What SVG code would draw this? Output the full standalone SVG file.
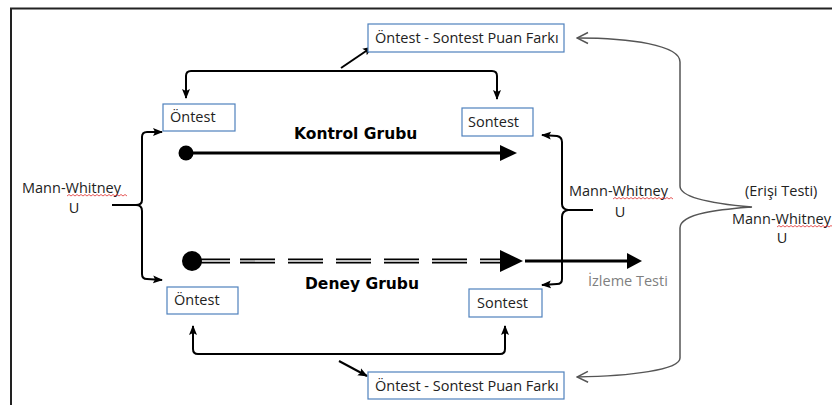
<svg xmlns="http://www.w3.org/2000/svg" width="832" height="405" viewBox="0 0 832 405">
<style>
.t{font-family:"Open Sans","Liberation Sans",sans-serif;font-size:14.5px;fill:#222}
.b{font-family:"DejaVu Sans",Verdana,sans-serif;font-weight:bold;font-size:15.5px;fill:#000}
.box{fill:#fff;stroke:#4f81bd;stroke-width:1.2}
.con{fill:none;stroke:#000;stroke-width:2;stroke-linejoin:round}
.thin{fill:none;stroke:#555;stroke-width:1.5}
.sq{fill:none;stroke:#e03030;stroke-width:0.8}
</style>
<defs>
<marker id="ah" markerUnits="userSpaceOnUse" markerWidth="10" markerHeight="10" viewBox="0 0 10 10" refX="9" refY="5" orient="auto-start-reverse">
<path d="M0 1 L10 5 L0 9 L2 5 z" fill="#000"/>
</marker>
<marker id="ch" markerUnits="userSpaceOnUse" markerWidth="14" markerHeight="14" viewBox="0 0 14 14" refX="13" refY="7" orient="auto-start-reverse">
<path d="M2 1.5 L13 7 L2 12.5" fill="none" stroke="#555" stroke-width="1.5"/>
</marker>
</defs>
<rect width="832" height="405" fill="#fff"/>
<g id="frame">
<path d="M11 405 L11 8.5 L832 8.5" fill="none" stroke="#222" stroke-width="2"/>
</g>
<g id="connectors">
<path class="con" d="M186 98 L186 76 Q186 71 191 71 L492 71 Q497 71 497 76 L497 99" marker-start="url(#ah)" marker-end="url(#ah)"/>
<path class="con" d="M341 68 L372 47" marker-end="url(#ah)"/>
<path class="con" d="M193 326 L193 349 Q193 354 198 354 L500 354 Q505 354 505 349 L505 326" marker-start="url(#ah)" marker-end="url(#ah)"/>
<path class="con" d="M339 361 L367 376" marker-end="url(#ah)"/>
<path class="con" d="M162 132 L147 132 Q142 132 142 137 L142 200 Q142 205 136 205 L112 205 M136 205 Q142 205 142 211 L142 274 Q142 279 147 279 L162 280" marker-start="url(#ah)" marker-end="url(#ah)"/>
<path class="con" d="M542 135 L557 136 Q562 137 562 142 L562 204 Q562 209 568 210 L593 210 M568 210 Q562 211 562 217 L562 279 Q562 284 557 284 L542 285" marker-start="url(#ah)" marker-end="url(#ah)"/>
<path class="thin" d="M577 38 C630 38 680 45 680 62 L680 186 C680 200 728 205 752 207 C728 209 680 212 680 228 L680 358 C680 370 630 376 577 377" marker-start="url(#ch)" marker-end="url(#ch)"/>
</g>
<g id="kontrol-line">
<circle cx="186" cy="153" r="7.5" fill="#000"/>
<line x1="186" y1="153" x2="503" y2="153" stroke="#000" stroke-width="3"/>
<path d="M500 145 L517 153 L500 161 z" fill="#000"/>
</g>
<g id="deney-line">
<line x1="192" y1="261" x2="230" y2="261" stroke="#000" stroke-width="5"/>
<line x1="192" y1="261" x2="230" y2="261" stroke="#fff" stroke-width="1.3"/>
<line x1="240" y1="261" x2="502" y2="261" stroke="#000" stroke-width="5" stroke-dasharray="35 13"/>
<line x1="240" y1="261" x2="502" y2="261" stroke="#fff" stroke-width="1.3" stroke-dasharray="35 13"/>
<circle cx="192" cy="261" r="10" fill="#000"/>
<path d="M500 250 L523 261 L500 272 z" fill="#000"/>
<line x1="525" y1="261" x2="630" y2="261" stroke="#000" stroke-width="3"/>
<path d="M627 253 L642 261 L627 269 z" fill="#000"/>
</g>
<g id="fark-top">
<rect class="box" x="368" y="24" width="196" height="28"/>
<text class="t" x="375" y="43">Öntest - Sontest Puan Farkı</text>
</g>
<g id="ontest-kontrol">
<rect class="box" x="163" y="104" width="72" height="27"/>
<text class="t" x="170" y="122">Öntest</text>
</g>
<g id="sontest-kontrol">
<rect class="box" x="462" y="108" width="71" height="28"/>
<text class="t" x="468" y="127">Sontest</text>
</g>
<g id="ontest-deney">
<rect class="box" x="167" y="287" width="71" height="27"/>
<text class="t" x="174" y="305">Öntest</text>
</g>
<g id="sontest-deney">
<rect class="box" x="469" y="289" width="73" height="28"/>
<text class="t" x="477" y="308">Sontest</text>
</g>
<g id="fark-bottom">
<rect class="box" x="368" y="372" width="196" height="27"/>
<text class="t" x="375" y="391">Öntest - Sontest Puan Farkı</text>
</g>
<g id="labels">
<text class="b" x="294" y="139">Kontrol Grubu</text>
<text class="b" x="305" y="289">Deney Grubu</text>
<text class="t" x="22" y="193">Mann-Whitney</text>
<text class="t" x="74" y="213" text-anchor="middle">U</text>
<text class="t" x="569" y="196">Mann-Whitney</text>
<text class="t" x="620" y="217" text-anchor="middle">U</text>
<text class="t" x="745" y="196">(Erişi Testi)</text>
<text class="t" x="732" y="224">Mann-Whitney</text>
<text class="t" x="782" y="243" text-anchor="middle">U</text>
<text class="t" x="588" y="286" style="fill:#7f7f7f">İzleme Testi</text>
</g>
<g id="spell-marks">
<path class="sq" d="M67 196 l2 -1.5 l2 1.5 l2 -1.5 l2 1.5 l2 -1.5 l2 1.5 l2 -1.5 l2 1.5 l2 -1.5 l2 1.5 l2 -1.5 l2 1.5 l2 -1.5 l2 1.5 l2 -1.5 l2 1.5 l2 -1.5 l2 1.5 l2 -1.5 l2 1.5 l2 -1.5 l2 1.5 l2 -1.5 l2 1.5 l2 -1.5 l2 1.5 l2 -1.5 l2 1.5 l2 -1.5 l2 1.5"/>
<path class="sq" d="M613 199 l2 -1.5 l2 1.5 l2 -1.5 l2 1.5 l2 -1.5 l2 1.5 l2 -1.5 l2 1.5 l2 -1.5 l2 1.5 l2 -1.5 l2 1.5 l2 -1.5 l2 1.5 l2 -1.5 l2 1.5 l2 -1.5 l2 1.5 l2 -1.5 l2 1.5 l2 -1.5 l2 1.5 l2 -1.5 l2 1.5 l2 -1.5 l2 1.5 l2 -1.5 l2 1.5 l2 -1.5 l2 1.5"/>
<path class="sq" d="M777 227 l2 -1.5 l2 1.5 l2 -1.5 l2 1.5 l2 -1.5 l2 1.5 l2 -1.5 l2 1.5 l2 -1.5 l2 1.5 l2 -1.5 l2 1.5 l2 -1.5 l2 1.5 l2 -1.5 l2 1.5 l2 -1.5 l2 1.5 l2 -1.5 l2 1.5 l2 -1.5 l2 1.5 l2 -1.5 l2 1.5 l2 -1.5 l2 1.5 l2 -1.5 l2 1.5"/>
</g>
</svg>
